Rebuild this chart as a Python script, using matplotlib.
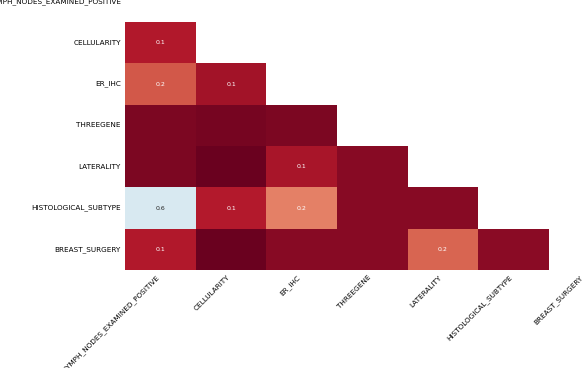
import numpy as np
import matplotlib
matplotlib.use("Agg")
import matplotlib.pyplot as plt
import seaborn as sns

columns = ["LYMPH_NODES_EXAMINED_POSITIVE", "CELLULARITY", "ER_IHC", "THREEGENE",
           "LATERALITY", "HISTOLOGICAL_SUBTYPE", "BREAST_SURGERY"]

# lower triangle of the nullity correlation, one list per row (row 0 is empty)
row_cellularity = [0.10]
row_er_ihc = [0.19, 0.08]
row_threegene = [0.03, 0.02, 0.03]
row_laterality = [0.03, 0.005, 0.087, 0.043]
row_histological = [0.58, 0.105, 0.247, 0.045, 0.045]
row_breast_surgery = [0.10, 0.005, 0.045, 0.045, 0.21, 0.048]

rows = [[], row_cellularity, row_er_ihc, row_threegene, row_laterality,
        row_histological, row_breast_surgery]

n = len(columns)
corr = np.full((n, n), np.nan)
for i, r in enumerate(rows):
    for j, v in enumerate(r):
        corr[i, j] = v

mask = np.zeros_like(corr, dtype=bool)
mask[np.triu_indices_from(mask)] = True

# annotation text: blank for near-zero values, else one decimal
labels = np.empty((n, n), dtype=object)
for i in range(n):
    for j in range(n):
        v = corr[i, j]
        if np.isnan(v) or abs(v) < 0.05:
            labels[i, j] = ""
        else:
            labels[i, j] = f"{round(v, 1)}"

fig = plt.figure(figsize=(5.82, 3.68), dpi=100)
ax = fig.add_axes([125 / 582, 98 / 368, 494.7 / 582, 289.3 / 368])

sns.heatmap(corr, mask=mask, cmap="RdBu", vmin=0, vmax=1, ax=ax, cbar=False,
            annot=labels, fmt="", annot_kws={"size": 4.5})

ax.set_xticklabels(columns, rotation=45, ha="right", fontsize=5.2)
ax.set_yticklabels(columns, rotation=0, fontsize=5.2)
ax.tick_params(length=0, pad=3)
ax.patch.set_visible(False)

fig.savefig("out.png", dpi=100)
